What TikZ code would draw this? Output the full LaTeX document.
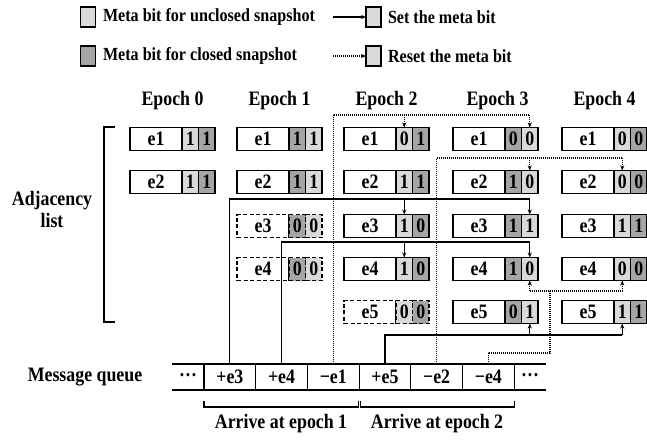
\documentclass[tikz,border=0pt]{standalone}
\usepackage{fontspec}
\setmainfont{Liberation Serif}[FakeStretch=0.87]
\usetikzlibrary{arrows.meta,calc}
\definecolor{lightg}{HTML}{D9D9D9}
\definecolor{darkg}{HTML}{A5A5A5}
\newcommand\entrybox[9]{%
  \node[lbl,#9] (#1) at (#2,#3) {#4};
  \node[bitcell,fill=#7,#9] (#1a) at (#1.east) {#5};
  \node[bitcell,fill=#8,#9] (#1b) at (#1a.east) {#6};
}
\begin{document}
\begin{tikzpicture}[x=1pt,y=-1pt,
  every node/.style={font=\bfseries\fontsize{20.5}{22}\selectfont, inner sep=0pt, outer sep=0pt},
  legtext/.style={anchor=west,font=\bfseries\fontsize{18.5}{20}\selectfont},
  lbl/.style={draw,line width=1.2pt,fill=white,minimum width=52pt,minimum height=23pt,anchor=west},
  bitcell/.style={draw,line width=1.2pt,minimum width=16.5pt,minimum height=23pt,anchor=west},
  dbox/.style={dash pattern=on 4pt off 2.5pt},
  sbox/.style={},
  setline/.style={line width=1.2pt},
  resetline/.style={line width=1.4pt, dash pattern=on 1pt off 1pt},
  tip/.style={-{Stealth[length=5pt,width=4pt]}},
  qcell/.style={draw,line width=1.2pt,minimum width=51.7pt,minimum height=26pt},
  legsq/.style={draw,line width=1.2pt,minimum width=15pt,minimum height=20pt},
]
\useasboundingbox (0,0) rectangle (647,440);

% legend
\node[legsq,fill=lightg] (L1) at (88,17) {};
\node[legtext] (T1) at (103,17) {Meta bit for unclosed snapshot};
\node[legsq,fill=darkg] (L2) at (88,56) {};
\node[legtext] (T2) at (103,56) {Meta bit for closed snapshot};
\coordinate (A1) at (333,17);
\coordinate (A2) at (333,56);
\node[legsq,fill=lightg] (L3) at (373.5,17) {};
\node[legsq,fill=lightg] (L4) at (373.5,56) {};
\draw[setline,tip] (A1) -- (L3.west);
\draw[resetline,tip] (A2) -- (L4.west);
\node[legtext] (T3) at (388,17) {Set the meta bit};
\node[legtext] (T4) at (388,56) {Reset the meta bit};

% headers
\node (H0) at (172.5,101) {Epoch 0};
\node (H1) at (279.5,101) {Epoch 1};
\node (H2) at (386.5,101) {Epoch 2};
\node (H3) at (497.5,101) {Epoch 3};
\node (H4) at (604.5,101) {Epoch 4};

% adjacency label and bracket
\node[align=center] (AL) at (52,209) {Adjacency\\list};
\coordinate (BR1) at (115,127);
\coordinate (BR2) at (104,127);
\coordinate (BR3) at (104,322);
\coordinate (BR4) at (115,322);
\draw[line width=1.2pt] (BR1) -- (BR2) -- (BR3) -- (BR4);

% epoch 0
\entrybox{Ae1}{130}{139}{e1}{1}{1}{lightg}{darkg}{sbox}
\entrybox{Ae2}{130}{182}{e2}{1}{1}{lightg}{darkg}{sbox}
% epoch 1
\entrybox{Be1}{237}{139}{e1}{1}{1}{darkg}{lightg}{sbox}
\entrybox{Be2}{237}{182}{e2}{1}{1}{darkg}{lightg}{sbox}
\entrybox{Be3}{237}{226}{e3}{0}{0}{darkg}{lightg}{dbox}
\entrybox{Be4}{237}{269}{e4}{0}{0}{darkg}{lightg}{dbox}
% epoch 2
\entrybox{Ce1}{344}{139}{e1}{0}{1}{lightg}{darkg}{sbox}
\entrybox{Ce2}{344}{182}{e2}{1}{1}{lightg}{darkg}{sbox}
\entrybox{Ce3}{344}{226}{e3}{1}{0}{lightg}{darkg}{sbox}
\entrybox{Ce4}{344}{269}{e4}{1}{0}{lightg}{darkg}{sbox}
\entrybox{Ce5}{344}{312}{e5}{0}{0}{lightg}{darkg}{dbox}
% epoch 3
\entrybox{De1}{453}{139}{e1}{0}{0}{darkg}{lightg}{sbox}
\entrybox{De2}{453}{182}{e2}{1}{0}{darkg}{lightg}{sbox}
\entrybox{De3}{453}{226}{e3}{1}{1}{darkg}{lightg}{sbox}
\entrybox{De4}{453}{269}{e4}{1}{0}{darkg}{lightg}{sbox}
\entrybox{De5}{453}{312}{e5}{0}{1}{darkg}{lightg}{sbox}
% epoch 4
\entrybox{Ee1}{562}{139}{e1}{0}{0}{lightg}{darkg}{sbox}
\entrybox{Ee2}{562}{182}{e2}{0}{0}{lightg}{darkg}{sbox}
\entrybox{Ee3}{562}{226}{e3}{1}{1}{lightg}{darkg}{sbox}
\entrybox{Ee4}{562}{269}{e4}{0}{0}{lightg}{darkg}{sbox}
\entrybox{Ee5}{562}{312}{e5}{1}{1}{lightg}{darkg}{sbox}

% message queue
\node (MQ) at (85,377) {Message queue};
\node (q0) at (188,375) {\dots};
\node[qcell] (q1) at (229.85,377) {+e3};
\node[qcell] (q2) at (281.55,377) {+e4};
\node[qcell] (q3) at (333.25,377) {−e1};
\node[qcell] (q4) at (384.95,377) {+e5};
\node[qcell] (q5) at (436.65,377) {−e2};
\node[qcell] (q6) at (488.35,377) {−e4};
\node (q7) at (530,375) {\dots};
\coordinate (qL) at (172,0);
\coordinate (qR) at (546,0);
\draw[line width=1.2pt] (qL |- q1.north) -- (qR |- q1.north);
\draw[line width=1.2pt] (qL |- q1.south) -- (qR |- q1.south);

% brackets
\coordinate (bt) at (0,401);
\coordinate (bb) at (0,407);
\draw[line width=1.2pt] (q1.west |- bt) -- (q1.west |- bb) -- ($(q3.east |- bb)+(-1,0)$) -- ($(q3.east |- bt)+(-1,0)$);
\draw[line width=1.2pt] ($(q4.west |- bt)+(1,0)$) -- ($(q4.west |- bb)+(1,0)$) -- (q6.east |- bb) -- (q6.east |- bt);
\node (AR1) at (281,424) {Arrive at epoch 1};
\node (AR2) at (437,424) {Arrive at epoch 2};

% connector levels
\coordinate (yE1) at (0,115);
\coordinate (yE2) at (0,158);
\coordinate (yE3) at (0,199);
\coordinate (yE4) at (0,242);
\coordinate (yE5) at (0,335);
\coordinate (yF4) at (0,353);
\coordinate (yG4) at (0,291);
\coordinate (xG4) at (550,0);

% +e3
\draw[setline] (q1.north) |- (De3b.north |- yE3);
\draw[setline,tip] (Ce3a.north |- yE3) -- (Ce3a.north);
\draw[setline,tip] (De3b.north |- yE3) -- (De3b.north);
% +e4
\draw[setline] (q2.north) |- (De4b.north |- yE4);
\draw[setline,tip] (Ce4a.north |- yE4) -- (Ce4a.north);
\draw[setline,tip] (De4b.north |- yE4) -- (De4b.north);
% -e1
\draw[resetline] (q3.north) |- (De1b.north |- yE1);
\draw[resetline,tip] (Ce1a.north |- yE1) -- (Ce1a.north);
\draw[resetline,tip] (De1b.north |- yE1) -- (De1b.north);
% -e2
\draw[resetline] (q5.north) |- (Ee2a.north |- yE2);
\draw[resetline,tip] (De2b.north |- yE2) -- (De2b.north);
\draw[resetline,tip] (Ee2a.north |- yE2) -- (Ee2a.north);
% +e5
\draw[setline] (q4.north) |- (Ee5a.south |- yE5);
\draw[setline,tip] (De5b.south |- yE5) -- (De5b.south);
\draw[setline,tip] (Ee5a.south |- yE5) -- (Ee5a.south);
% -e4
\draw[resetline] (q6.north) |- (xG4 |- yF4) -- (xG4 |- yG4);
\draw[resetline] (De4b.south |- yG4) -- (Ee4a.south |- yG4);
\draw[resetline,tip] (De4b.south |- yG4) -- (De4b.south);
\draw[resetline,tip] (Ee4a.south |- yG4) -- (Ee4a.south);
\end{tikzpicture}
\end{document}
